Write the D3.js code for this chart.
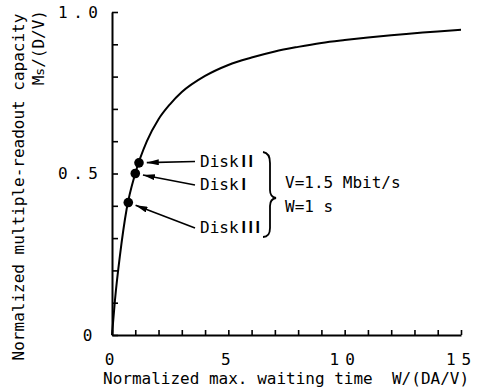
<!DOCTYPE html>
<html>
<head>
<meta charset="utf-8">
<script src="https://cdn.jsdelivr.net/npm/d3@7/dist/d3.min.js"></script>
<style>
  body { margin: 0; background: #fff; }
  svg { display: block; }
  text { font-family: "DejaVu Sans Mono", monospace; fill: #000; }
</style>
</head>
<body>
<div id="chart"></div>
<script>
// curve: W/(DA/V) vs Ms/(D/V)
var waitTime = [0, 0.13, 0.34, 0.63, 1, 1.5, 2, 2.5, 3, 4, 5, 6, 7, 8, 9, 10, 11, 12, 13, 14, 15];
var capacity = [0, 0.11, 0.245, 0.39, 0.50, 0.60, 0.668, 0.715, 0.752, 0.802, 0.836, 0.859, 0.878, 0.892, 0.904, 0.913, 0.921, 0.928, 0.934, 0.940, 0.945];

// the three disks
var diskNames = ["II", "I", "III"];
var diskWait = [1.16, 1.0, 0.70];
var diskCap = [0.533, 0.50, 0.41];

// ticks
var xTickValues = [0, 5, 10, 15];
var xTickLabels = ["0", "5", "10", "15"];
var yTickValues = [0, 0.5, 1.0];
var yTickLabels = ["0", "0.5", "1.0"];

var width = 481;
var height = 390;

var svg = d3.select("#chart").append("svg")
    .attr("width", width)
    .attr("height", height);

var x = d3.scaleLinear().domain([0, 15]).range([112, 461]);
var y = d3.scaleLinear().domain([0, 1]).range([335, 12]);

//AXES
var xAxis = d3.axisBottom(x)
    .tickValues(d3.range(0, 16))
    .tickSizeInner(-5)
    .tickSizeOuter(0)
    .tickPadding(19)
    .tickFormat(function(d) {
        var i = xTickValues.indexOf(d);
        return i < 0 ? "" : xTickLabels[i];
    });

var yAxis = d3.axisLeft(y)
    .tickValues(d3.range(0, 11).map(function(i) { return i / 10; }))
    .tickSizeInner(-6)
    .tickSizeOuter(0)
    .tickPadding(14)
    .tickFormat(function(d) {
        var i = yTickValues.findIndex(function(v) { return Math.abs(v - d) < 1e-9; });
        return i < 0 ? "" : yTickLabels[i];
    });

var gx = svg.append("g")
    .attr("transform", "translate(0," + y(0) + ")")
    .call(xAxis);
var gy = svg.append("g")
    .attr("transform", "translate(" + x(0) + ",0)")
    .call(yAxis);

[gx, gy].forEach(function(g) {
    g.attr("font-family", null).attr("font-size", null);
    g.select(".domain").attr("stroke", "#000").attr("stroke-width", 2);
    g.selectAll(".tick line").attr("stroke", "#000").attr("stroke-width", 1.6);
    g.selectAll(".tick text")
        .style("font-family", "'DejaVu Sans Mono', monospace")
        .style("font-size", "16px")
        .attr("fill", "#000");
});
gx.selectAll(".tick text")
    .style("letter-spacing", "6px")
    .attr("dx", "0px");
gy.selectAll(".tick text")
    .style("letter-spacing", "5.5px")
    .attr("dx", function(d) { return Math.abs(d) < 1e-9 ? "0px" : "5.5px"; });

//AXIS TITLES
svg.append("text")
    .attr("x", 103)
    .attr("y", 384)
    .style("font-size", "16px")
    .style("white-space", "pre")
    .attr("xml:space", "preserve")
    .text("Normalized max. waiting time  W/(DA/V)");

svg.append("text")
    .attr("transform", "translate(24,187) rotate(-90)")
    .attr("text-anchor", "middle")
    .style("font-size", "16px")
    .text("Normalized multiple-readout capacity");

var ms = svg.append("text")
    .attr("transform", "translate(44,10) rotate(-90)")
    .attr("text-anchor", "end")
    .style("font-size", "16px");
ms.append("tspan").text("M");
ms.append("tspan").style("font-size", "13px").text("s");
ms.append("tspan").text("/(D/V)");

//CURVE
var pts = waitTime.map(function(w, i) { return [w, capacity[i]]; });
var line = d3.line()
    .x(function(d) { return x(d[0]); })
    .y(function(d) { return y(d[1]); })
    .curve(d3.curveMonotoneX);

svg.append("path")
    .datum(pts)
    .attr("fill", "none")
    .attr("stroke", "#000")
    .attr("stroke-width", 2)
    .attr("d", line);

//DISK POINTS + LABELS
svg.append("defs").append("marker")
    .attr("id", "arrow")
    .attr("viewBox", "0 0 12 6")
    .attr("refX", 12)
    .attr("refY", 3)
    .attr("markerWidth", 12)
    .attr("markerHeight", 6)
    .attr("markerUnits", "userSpaceOnUse")
    .attr("orient", "auto")
    .append("path")
    .attr("d", "M0,0 L12,3 L0,6 z")
    .attr("fill", "#000");

var labelX = 200;
var labelBase = [166.5, 190, 233];
var dotR = 4.8;

diskNames.forEach(function(name, i) {
    var cx = x(diskWait[i]), cy = y(diskCap[i]);
    svg.append("circle")
        .attr("cx", cx)
        .attr("cy", cy)
        .attr("r", dotR)
        .attr("fill", "#000");

    var sx = labelX - 5, sy = labelBase[i] - 5;
    var dx = sx - cx, dy = sy - cy, len = Math.sqrt(dx * dx + dy * dy);
    var ex = cx + dx / len * (dotR + 3), ey = cy + dy / len * (dotR + 3);
    svg.append("line")
        .attr("x1", sx).attr("y1", sy)
        .attr("x2", ex).attr("y2", ey)
        .attr("stroke", "#000")
        .attr("stroke-width", 1.6)
        .attr("marker-end", "url(#arrow)");

    var t = svg.append("text")
        .attr("x", labelX)
        .attr("y", labelBase[i])
        .style("font-size", "16px");
    t.append("tspan").text("Disk");
    t.append("tspan")
        .attr("dx", 3)
        .style("font-family", "'Liberation Sans', sans-serif")
        .style("font-weight", "bold")
        .style("font-size", "16px")
        .style("letter-spacing", "2.5px")
        .text(name);
});

// brace
svg.append("path")
    .attr("d", "M263,152 Q270,153 270,163 L270,190 Q270,197 276,198 Q270,199 270,206 L270,228 Q270,237 263,237")
    .attr("fill", "none")
    .attr("stroke", "#000")
    .attr("stroke-width", 1.8);

svg.append("text")
    .attr("x", 285)
    .attr("y", 188)
    .style("font-size", "16px")
    .text("V=1.5 Mbit/s");
svg.append("text")
    .attr("x", 285)
    .attr("y", 211.5)
    .style("font-size", "16px")
    .text("W=1 s");
</script>
</body>
</html>
